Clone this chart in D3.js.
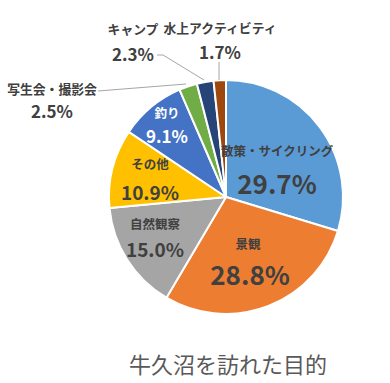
<!DOCTYPE html>
<html><head><meta charset="utf-8">
<script src="https://cdn.jsdelivr.net/npm/d3@7"></script>
<style>body{margin:0;background:#fff}svg{display:block}text{font-family:"Noto Sans CJK JP","Noto Sans",sans-serif}</style>
</head><body>
<script>
const categories = ["散策・サイクリング","景観","自然観察","その他","釣り","写生会・撮影会","キャンプ","水上アクティビティ"];
const values = [29.7, 28.8, 15.0, 10.9, 9.1, 2.5, 2.3, 1.7];
const colors = ["#5B9BD5","#ED7D31","#A5A5A5","#FFC000","#4472C4","#70AD47","#264478","#9E480E"];
const title = "牛久沼を訪れた目的";

const W = 390, H = 383;
const svg = d3.select("body").append("svg").attr("width", W).attr("height", H);
const cx = 226, cy = 197, R = 117;
const g = svg.append("g").attr("transform", `translate(${cx},${cy})`);
const pie = d3.pie().sort(null).value(d => d)(values);
const arc = d3.arc().innerRadius(0).outerRadius(R);
g.selectAll("path").data(pie).enter().append("path")
  .attr("d", arc).attr("fill", (d, i) => colors[i])
  .attr("stroke", "#fff").attr("stroke-width", 2).attr("stroke-linejoin", "round");

// inside labels: [catDx, catDy, valDx, valDy, catSize, valSize, color]
const inside = [
  [51, -47, 51, -15, 12.5, 26, "#404040"],
  [22, 46, 24, 76, 12.5, 26, "#404040"],
  [-71, 26, -71, 51, 12.5, 19, "#404040"],
  [-76, -34, -76, -6, 12.5, 19, "#404040"],
  [-59, -85, -59, -62, 12.5, 17, "#ffffff"]
];
inside.forEach((p, i) => {
  g.append("text").attr("x", p[0]).attr("y", p[1]).attr("text-anchor", "middle")
    .attr("dominant-baseline", "central").attr("font-size", p[4]).attr("font-weight", "bold")
    .attr("fill", p[6]).text(categories[i]);
  g.append("text").attr("x", p[2]).attr("y", p[3]).attr("text-anchor", "middle")
    .attr("dominant-baseline", "central").attr("font-size", p[5]).attr("font-weight", "bold")
    .attr("fill", p[6]).text(values[i].toFixed(1) + "%");
});

// outside labels (absolute coords)
const outside = {
  5: {x: 52, cy: 88, vy: 110, line: [[98, 91], [186, 84]]},
  6: {x: 133, cy: 28, vy: 53, line: [[157, 55], [163, 55], [204, 80]]},
  7: {x: 220, cy: 27, vy: 51, line: [[219, 62], [219, 80]]}
};
Object.keys(outside).forEach(k => {
  const o = outside[k], i = +k;
  svg.append("path").attr("d", d3.line()(o.line)).attr("fill", "none")
    .attr("stroke", "#A6A6A6").attr("stroke-width", 1);
  svg.append("text").attr("x", o.x).attr("y", o.cy).attr("text-anchor", "middle")
    .attr("dominant-baseline", "central").attr("font-size", 12.8).attr("font-weight", "bold")
    .attr("fill", "#404040").text(categories[i]);
  svg.append("text").attr("x", o.x).attr("y", o.vy).attr("text-anchor", "middle")
    .attr("dominant-baseline", "central").attr("font-size", 17).attr("font-weight", "bold")
    .attr("fill", "#404040").text(values[i].toFixed(1) + "%");
});

svg.append("text").attr("x", 228).attr("y", 363).attr("text-anchor", "middle")
  .attr("dominant-baseline", "central").attr("font-size", 22).attr("fill", "#595959").text(title);
</script>
</body></html>
